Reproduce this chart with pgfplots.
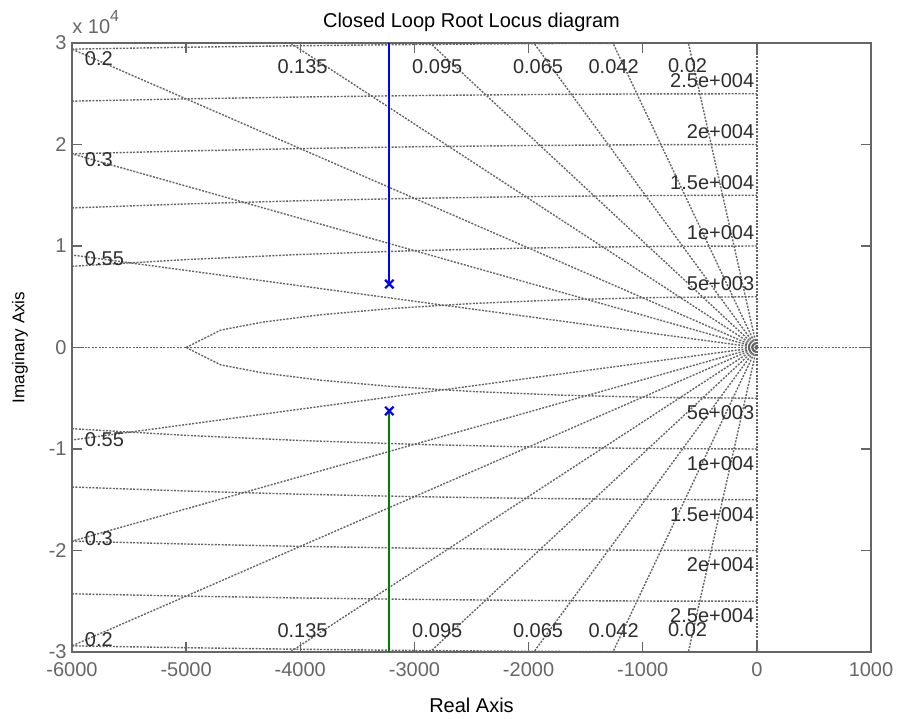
\documentclass[border=0pt]{standalone}
\usepackage{fontspec}
\setmainfont{Liberation Sans}
\usepackage{pgfplots}
\pgfplotsset{compat=1.18}
\definecolor{axgray}{RGB}{102,102,102}
\definecolor{gridgray}{RGB}{100,100,100}
\definecolor{lblgray}{RGB}{45,45,45}
\definecolor{mblue}{RGB}{0,0,255}
\definecolor{mgreen}{RGB}{0,128,0}
\tikzset{
  gl/.style={gridgray, line width=0.7pt, dash pattern=on 1pt off 0.7pt, mark=none},
  zlab/.style={text=lblgray, inner sep=0pt, font=\fontsize{10}{12}\selectfont},
}
\begin{document}
\begin{tikzpicture}[font=\fontsize{10}{12}\selectfont]
\begin{axis}[name=ax, scale only axis, width=399.5pt, height=304.5pt,
  xmin=-6000, xmax=1000, ymin=-30000, ymax=30000,
  xtick={-6000,-5000,-4000,-3000,-2000,-1000,0,1000},
  xticklabels={-6000,-5000,-4000,-3000,-2000,-1000,0,1000},
  ytick={-30000,-20000,-10000,0,10000,20000,30000},
  yticklabels={-3,-2,-1,0,1,2,3},
  scaled ticks=false,
  tick align=inside, major tick length=5pt,
  every tick/.style={axgray, line width=0.75pt},
  axis line style={axgray, line width=0.75pt},
  ticklabel style={text=axgray, font=\fontsize{10}{12}\selectfont},
  xticklabel style={anchor=north, inner sep=0pt, yshift=-5pt},
  yticklabel style={anchor=east, inner sep=0pt, xshift=-2.5pt},
  /pgf/number format/assume math mode=true,
]
% axes lines of the s-grid
\addplot[gl] coordinates {(0,0) (-6000,0)};
\addplot[gl] coordinates {(0,0) (1000,0)};
\addplot[gl] coordinates {(0,0) (0,30000)};
\addplot[gl] coordinates {(0,0) (0,-30000)};
% damping lines (upper)
\addplot[gl] coordinates {(0,0) (-600.1,30000)};
\addplot[gl] coordinates {(0,0) (-1261.0,30000)};
\addplot[gl] coordinates {(0,0) (-1954.1,30000)};
\addplot[gl] coordinates {(0,0) (-2862.9,30000)};
\addplot[gl] coordinates {(0,0) (-4087.4,30000)};
\addplot[gl] coordinates {(0,0) (-6000,29394)};
\addplot[gl] coordinates {(0,0) (-6000,19079)};
\addplot[gl] coordinates {(0,0) (-6000,9111)};
% damping lines (lower)
\addplot[gl] coordinates {(0,0) (-600.1,-30000)};
\addplot[gl] coordinates {(0,0) (-1261.0,-30000)};
\addplot[gl] coordinates {(0,0) (-1954.1,-30000)};
\addplot[gl] coordinates {(0,0) (-2862.9,-30000)};
\addplot[gl] coordinates {(0,0) (-4087.4,-30000)};
\addplot[gl] coordinates {(0,0) (-6000,-29394)};
\addplot[gl] coordinates {(0,0) (-6000,-19079)};
\addplot[gl] coordinates {(0,0) (-6000,-9111)};
% natural frequency curves (upper)
\addplot[gl] coordinates {(-5000,0) (-4698,1710) (-4330,2500) (-3830,3214) (-3214,3830) (-2500,4330) (-1710,4698) (-868,4924) (0,5000)};
\addplot[gl] coordinates {(-6000,8000) (-5000,8660.3) (-4000,9165.2) (-3000,9539.4) (-2000,9798.0) (-1000,9949.9) (0,10000)};
\addplot[gl] coordinates {(-6000,13747.7) (-5000,14142.1) (-4000,14456.8) (-3000,14696.9) (-2000,14866.1) (-1000,14966.6) (0,15000)};
\addplot[gl] coordinates {(-6000,19078.8) (-5000,19364.9) (-4000,19595.9) (-3000,19773.7) (-2000,19899.7) (-1000,19975.0) (0,20000)};
\addplot[gl] coordinates {(-6000,24269.3) (-5000,24494.9) (-4000,24677.9) (-3000,24819.3) (-2000,24919.9) (-1000,24980.0) (0,25000)};
\addplot[gl] coordinates {(-6000,29393.9) (-5000,29580.4) (-4000,29732.1) (-3000,29849.6) (-2000,29933.3) (-1000,29983.3) (0,30000)};
% natural frequency curves (lower)
\addplot[gl] coordinates {(-5000,0) (-4698,-1710) (-4330,-2500) (-3830,-3214) (-3214,-3830) (-2500,-4330) (-1710,-4698) (-868,-4924) (0,-5000)};
\addplot[gl] coordinates {(-6000,-8000) (-5000,-8660.3) (-4000,-9165.2) (-3000,-9539.4) (-2000,-9798.0) (-1000,-9949.9) (0,-10000)};
\addplot[gl] coordinates {(-6000,-13747.7) (-5000,-14142.1) (-4000,-14456.8) (-3000,-14696.9) (-2000,-14866.1) (-1000,-14966.6) (0,-15000)};
\addplot[gl] coordinates {(-6000,-19078.8) (-5000,-19364.9) (-4000,-19595.9) (-3000,-19773.7) (-2000,-19899.7) (-1000,-19975.0) (0,-20000)};
\addplot[gl] coordinates {(-6000,-24269.3) (-5000,-24494.9) (-4000,-24677.9) (-3000,-24819.3) (-2000,-24919.9) (-1000,-24980.0) (0,-25000)};
\addplot[gl] coordinates {(-6000,-29393.9) (-5000,-29580.4) (-4000,-29732.1) (-3000,-29849.6) (-2000,-29933.3) (-1000,-29983.3) (0,-30000)};
% root locus branches
\addplot[mblue, line width=1pt, mark=none] coordinates {(-3220,6250) (-3220,30000)};
\addplot[mgreen, line width=1pt, mark=none] coordinates {(-3220,-6250) (-3220,-30000)};
\addplot[only marks, mark=x, mark size=3pt, mblue, mark options={line width=1.1pt}] coordinates {(-3220,6250) (-3220,-6250)};
% damping labels
\node[zlab, anchor=west] at (axis cs:-5890,28470) {0.2};
\node[zlab, anchor=west] at (axis cs:-5890,18470) {0.3};
\node[zlab, anchor=west] at (axis cs:-5890,8770) {0.55};
\node[zlab, anchor=west] at (axis cs:-5890,-9110) {0.55};
\node[zlab, anchor=west] at (axis cs:-5890,-18820) {0.3};
\node[zlab, anchor=west] at (axis cs:-5890,-28770) {0.2};
\node[zlab] at (axis cs:-3980,27700) {0.135};
\node[zlab] at (axis cs:-2800,27700) {0.095};
\node[zlab] at (axis cs:-1917,27700) {0.065};
\node[zlab] at (axis cs:-1255,27700) {0.042};
\node[zlab] at (axis cs:-607,27800) {0.02};
\node[zlab] at (axis cs:-3980,-27880) {0.135};
\node[zlab] at (axis cs:-2800,-27880) {0.095};
\node[zlab] at (axis cs:-1917,-27880) {0.065};
\node[zlab] at (axis cs:-1255,-27880) {0.042};
\node[zlab] at (axis cs:-607,-27780) {0.02};
% natural frequency labels
\node[zlab, anchor=south east] at (axis cs:-20,5550) {5e+003};
\node[zlab, anchor=south east] at (axis cs:-20,10550) {1e+004};
\node[zlab, anchor=south east] at (axis cs:-20,15550) {1.5e+004};
\node[zlab, anchor=south east] at (axis cs:-20,20550) {2e+004};
\node[zlab, anchor=south east] at (axis cs:-20,25600) {2.5e+004};
\node[zlab, anchor=north east] at (axis cs:-20,-5700) {5e+003};
\node[zlab, anchor=north east] at (axis cs:-20,-10700) {1e+004};
\node[zlab, anchor=north east] at (axis cs:-20,-15700) {1.5e+004};
\node[zlab, anchor=north east] at (axis cs:-20,-20700) {2e+004};
\node[zlab, anchor=north east] at (axis cs:-20,-25700) {2.5e+004};
\end{axis}
\node[anchor=base] at ([yshift=7.5pt]ax.north) {Closed Loop Root Locus diagram};
\node[anchor=base] at ([yshift=-30.5pt]ax.south) {Real Axis};
\node[rotate=90, anchor=center, font=\fontsize{8.5}{10}\selectfont] at ([xshift=-26pt]ax.west) {Imaginary Axis};
\node[anchor=base west, text=axgray, inner sep=0pt] at ([yshift=4.5pt]ax.north west) {x 10\raisebox{6pt}{\fontsize{8}{9}\selectfont 4}};
\pgfresetboundingbox
\useasboundingbox ([shift={(-36pt,-33.5pt)}]ax.south west) rectangle ([shift={(14pt,21.5pt)}]ax.north east);
\end{tikzpicture}
\end{document}
